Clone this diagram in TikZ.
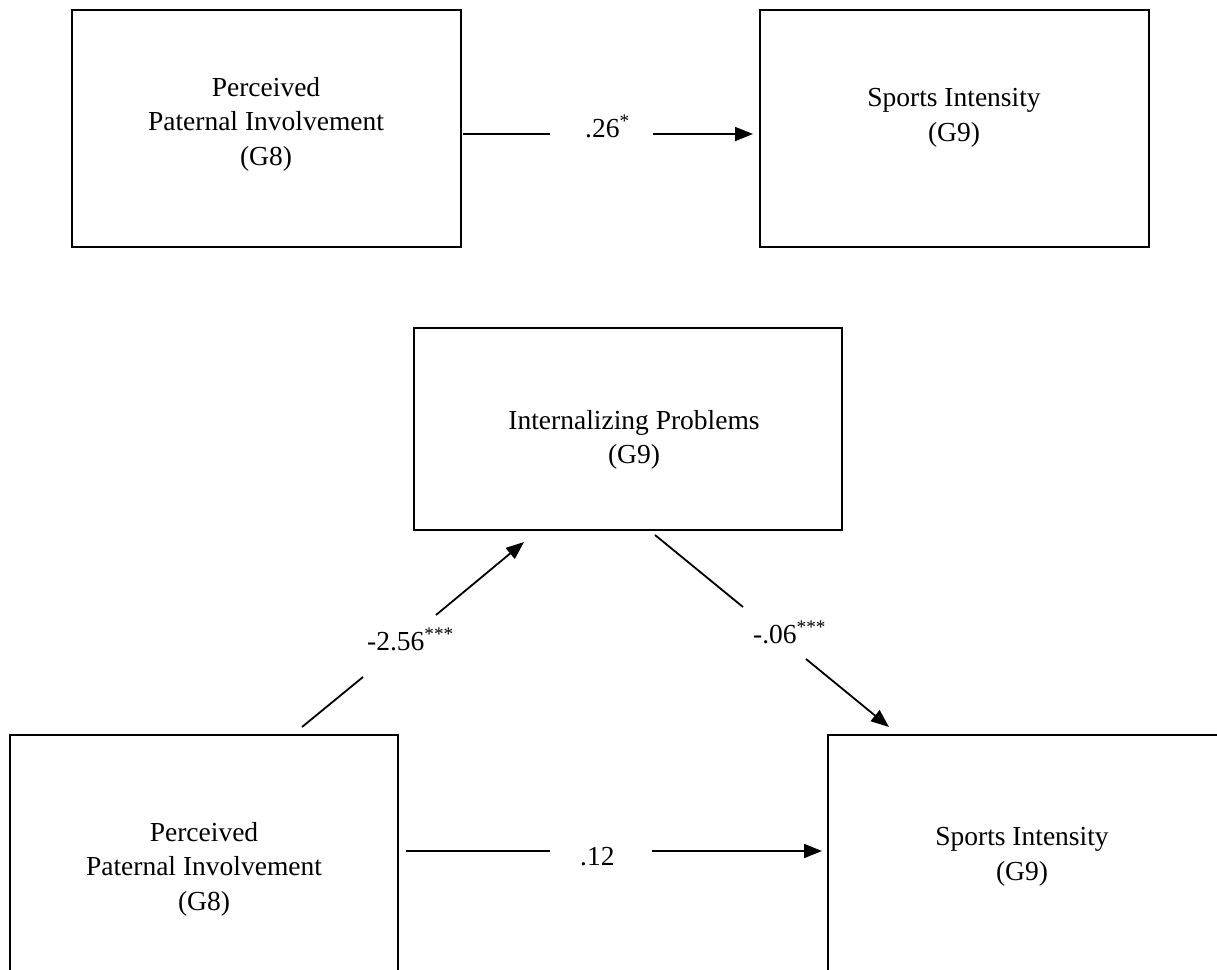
\documentclass[tikz,border=0pt]{standalone}
\usepackage{fontspec}
\setmainfont{Liberation Serif}
\usetikzlibrary{arrows.meta,calc}
\begin{document}
\begin{tikzpicture}[x=1pt,y=-1pt,
  box/.style={draw, line width=1.8pt, inner sep=0pt},
  txt/.style={align=center, inner sep=0pt, font=\fontsize{27.5}{34.5}\selectfont},
  coef/.style={inner sep=0pt, anchor=base west, font=\fontsize{27.5}{34.5}\selectfont},
  link/.style={line width=1.8pt},
  arrowlink/.style={line width=1.8pt, -{Triangle[length=18pt,width=14pt]}}]
\useasboundingbox (0,0) rectangle (1217,969);
\clip (0,0) rectangle (1217,969);

% upper model: total effect
\node[box, minimum width=389pt, minimum height=237pt] (pa) at (266.5,128.5) {};
\node[txt] (patext) at (266,124) {Perceived\\Paternal Involvement\\(G8)};
\node[box, minimum width=389pt, minimum height=237pt] (sa) at (954.5,128.5) {};
\node[txt] (satext) at (954,118) {Sports Intensity\\(G9)};

\coordinate (c1) at (463,134);
\coordinate (c2) at (550,134);
\coordinate (c3) at (653,134);
\coordinate (c4) at (753,134);
\draw[link] (c1) -- (c2);
\draw[arrowlink] (c3) -- (c4);
\node[coef] (ca) at (585,137) {.26\textsuperscript{*}};

% lower model: mediation through internalizing problems
\node[box, minimum width=428pt, minimum height=202pt] (ip) at (628,429) {};
\node[txt] (iptext) at (634,440) {Internalizing Problems\\(G9)};

\node[box, minimum width=388pt, minimum height=237pt] (pb) at (204,853.5) {};
\node[txt] (pbtext) at (204,869) {Perceived\\Paternal Involvement\\(G8)};
\node[box, minimum width=395pt, minimum height=237pt] (sb) at (1025.5,853.5) {};
\node[txt] (sbtext) at (1022,857) {Sports Intensity\\(G9)};

% path a
\coordinate (a1) at (302,727);
\coordinate (a2) at (363,677);
\coordinate (a3) at (436,615);
\coordinate (a4) at (524,542);
\draw[link] (a1) -- (a2);
\draw[arrowlink] (a3) -- (a4);
\node[coef] (cb) at (367,650) {-2.56\textsuperscript{***}};

% path b
\coordinate (b1) at (655,535);
\coordinate (b2) at (743,607);
\coordinate (b3) at (806,659);
\coordinate (b4) at (889,727);
\draw[link] (b1) -- (b2);
\draw[arrowlink] (b3) -- (b4);
\node[coef] (cc) at (753,643) {-.06\textsuperscript{***}};

% direct path c'
\coordinate (d1) at (406,851);
\coordinate (d2) at (550,851);
\coordinate (d3) at (652,851);
\coordinate (d4) at (822,851);
\draw[link] (d1) -- (d2);
\draw[arrowlink] (d3) -- (d4);
\node[coef] (cd) at (580,865) {.12};
\end{tikzpicture}
\end{document}
